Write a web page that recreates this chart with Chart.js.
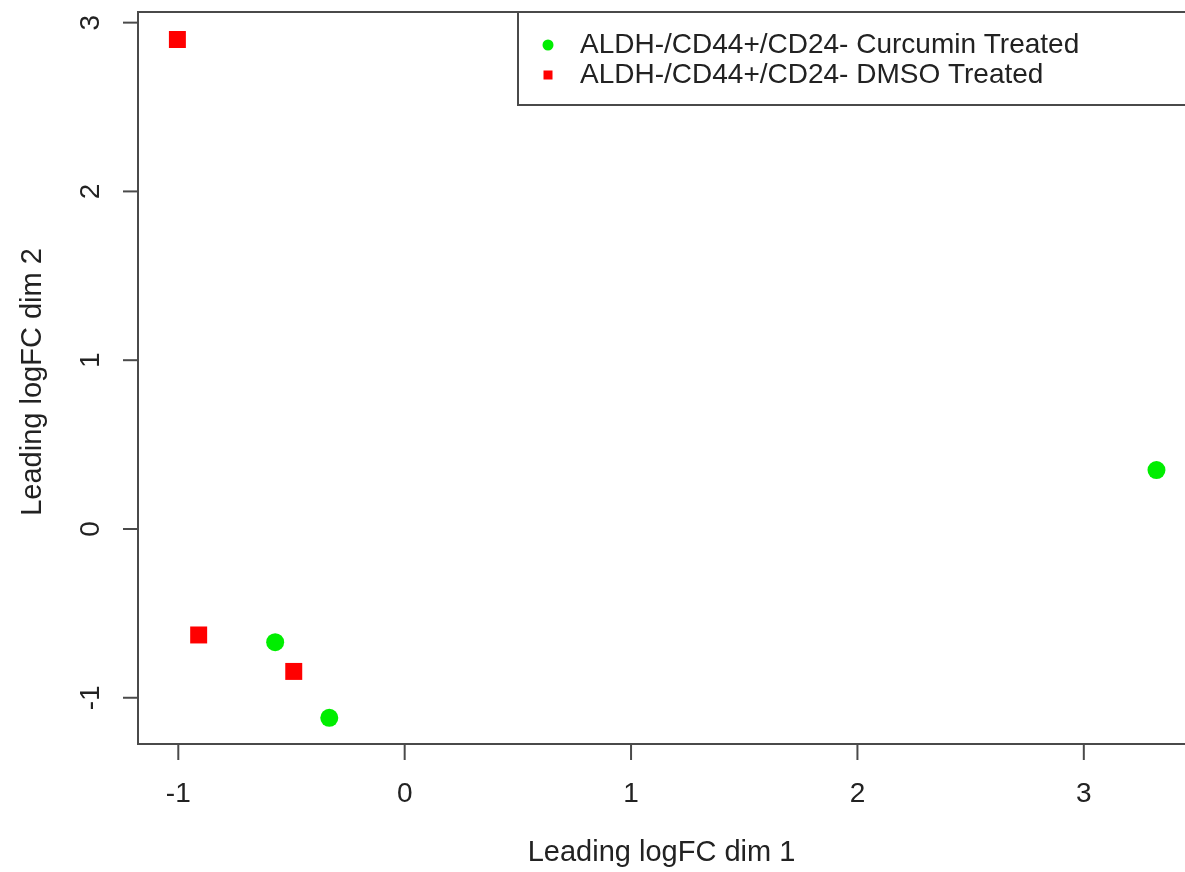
<!DOCTYPE html>
<html>
<head>
<meta charset="utf-8">
<script src="https://cdn.jsdelivr.net/npm/chart.js@4/dist/chart.umd.min.js"></script>
<style>
  html, body { margin: 0; padding: 0; background: #fff; overflow: hidden; }
  #wrap { width: 1185px; height: 872px; }
</style>
</head>
<body>
<div id="wrap"><canvas id="mdsChart" width="1185" height="872"></canvas></div>
<script>
// donnees
const seriesNames = ['ALDH-/CD44+/CD24- Curcumin Treated', 'ALDH-/CD44+/CD24- DMSO Treated'];
const curcuminX = [-0.572, -0.333, 3.321];
const curcuminY = [-0.671, -1.119, 0.349];
const dmsoX = [-1.004, -0.910, -0.490];
const dmsoY = [2.900, -0.628, -0.844];
const xTicks = [-1, 0, 1, 2, 3];
const yTicks = [-1, 0, 1, 2, 3];
const xTitle = 'Leading logFC dim 1';
const yTitle = 'Leading logFC dim 2';

(() => {
    const FONT = '"Liberation Sans", Arial, Helvetica, sans-serif';
    const LINE = '#4a4a4a';
    const TEXT = '#222';

    const toPoints = (xs, ys) => xs.map((x, i) => ({ x: x, y: ys[i] }));

    // 1. Axes, boite et legende facon R
    const rFrame = {
        id: 'rFrame',
        afterDraw(chart) {
            const { ctx, chartArea: a, scales } = chart;
            const xs = scales.x, ys = scales.y;
            ctx.save();
            ctx.strokeStyle = LINE;
            ctx.lineWidth = 2;

            // boite (le bord droit sort du cadre)
            ctx.beginPath();
            ctx.moveTo(a.right + 10, a.top);
            ctx.lineTo(a.left, a.top);
            ctx.lineTo(a.left, a.bottom);
            ctx.lineTo(a.right + 10, a.bottom);
            ctx.stroke();

            ctx.font = '28px ' + FONT;
            ctx.fillStyle = TEXT;
            ctx.textAlign = 'center';
            ctx.textBaseline = 'middle';

            xTicks.forEach(v => {
                const px = xs.getPixelForValue(v);
                ctx.beginPath();
                ctx.moveTo(px, a.bottom);
                ctx.lineTo(px, a.bottom + 16);
                ctx.stroke();
                ctx.fillText(String(v), px, a.bottom + 50);
            });

            yTicks.forEach(v => {
                const py = ys.getPixelForValue(v);
                ctx.beginPath();
                ctx.moveTo(a.left, py);
                ctx.lineTo(a.left - 15, py);
                ctx.stroke();
                ctx.save();
                ctx.translate(a.left - 47, py);
                ctx.rotate(-Math.PI / 2);
                ctx.fillText(String(v), 0, 0);
                ctx.restore();
            });

            // titres
            ctx.font = '29px ' + FONT;
            ctx.fillText(xTitle, (a.left + a.right) / 2, 853);
            ctx.save();
            ctx.translate(33, (a.top + a.bottom) / 2 + 4);
            ctx.rotate(-Math.PI / 2);
            ctx.fillText(yTitle, 0, 0);
            ctx.restore();

            // legende
            ctx.font = '28px ' + FONT;
            const lx = 518, ly = a.top, lh = 93;
            ctx.fillStyle = '#fff';
            ctx.fillRect(lx, ly, a.right + 10 - lx, lh);
            ctx.strokeRect(lx, ly, a.right + 10 - lx, lh);

            const rows = [ly + 33, ly + 63];
            chart.data.datasets.forEach((ds, i) => {
                ctx.fillStyle = ds.backgroundColor;
                if (ds.pointStyle === 'circle') {
                    ctx.beginPath();
                    ctx.arc(548, rows[i], 5.5, 0, Math.PI * 2);
                    ctx.fill();
                } else {
                    ctx.fillRect(543.5, rows[i] - 4.5, 9, 9);
                }
                ctx.fillStyle = TEXT;
                ctx.textAlign = 'left';
                ctx.fillText(ds.label, 580, rows[i]);
            });
            ctx.restore();
        }
    };

    const ctx = document.getElementById('mdsChart');
    new Chart(ctx, {
        type: 'scatter',
        data: {
            datasets: [{
                label: seriesNames[0],
                data: toPoints(curcuminX, curcuminY),
                pointStyle: 'circle',
                backgroundColor: '#00ee00',
                borderWidth: 0,
                pointRadius: 9,
                pointHoverRadius: 9
            }, {
                label: seriesNames[1],
                data: toPoints(dmsoX, dmsoY),
                pointStyle: 'rect',
                backgroundColor: '#ff0000',
                borderWidth: 0,
                pointRadius: 12,
                pointHoverRadius: 12
            }]
        },
        options: {
            responsive: false,
            animation: false,
            layout: {
                autoPadding: false,
                padding: { left: 138, top: 12, right: 0, bottom: 128 }
            },
            scales: {
                x: { type: 'linear', display: false, min: -1.178, max: 3.447 },
                y: { type: 'linear', display: false, min: -1.274, max: 3.063 }
            },
            plugins: {
                legend: { display: false },
                tooltip: { enabled: false }
            }
        },
        plugins: [rFrame]
    });
})();
</script>
</body>
</html>
